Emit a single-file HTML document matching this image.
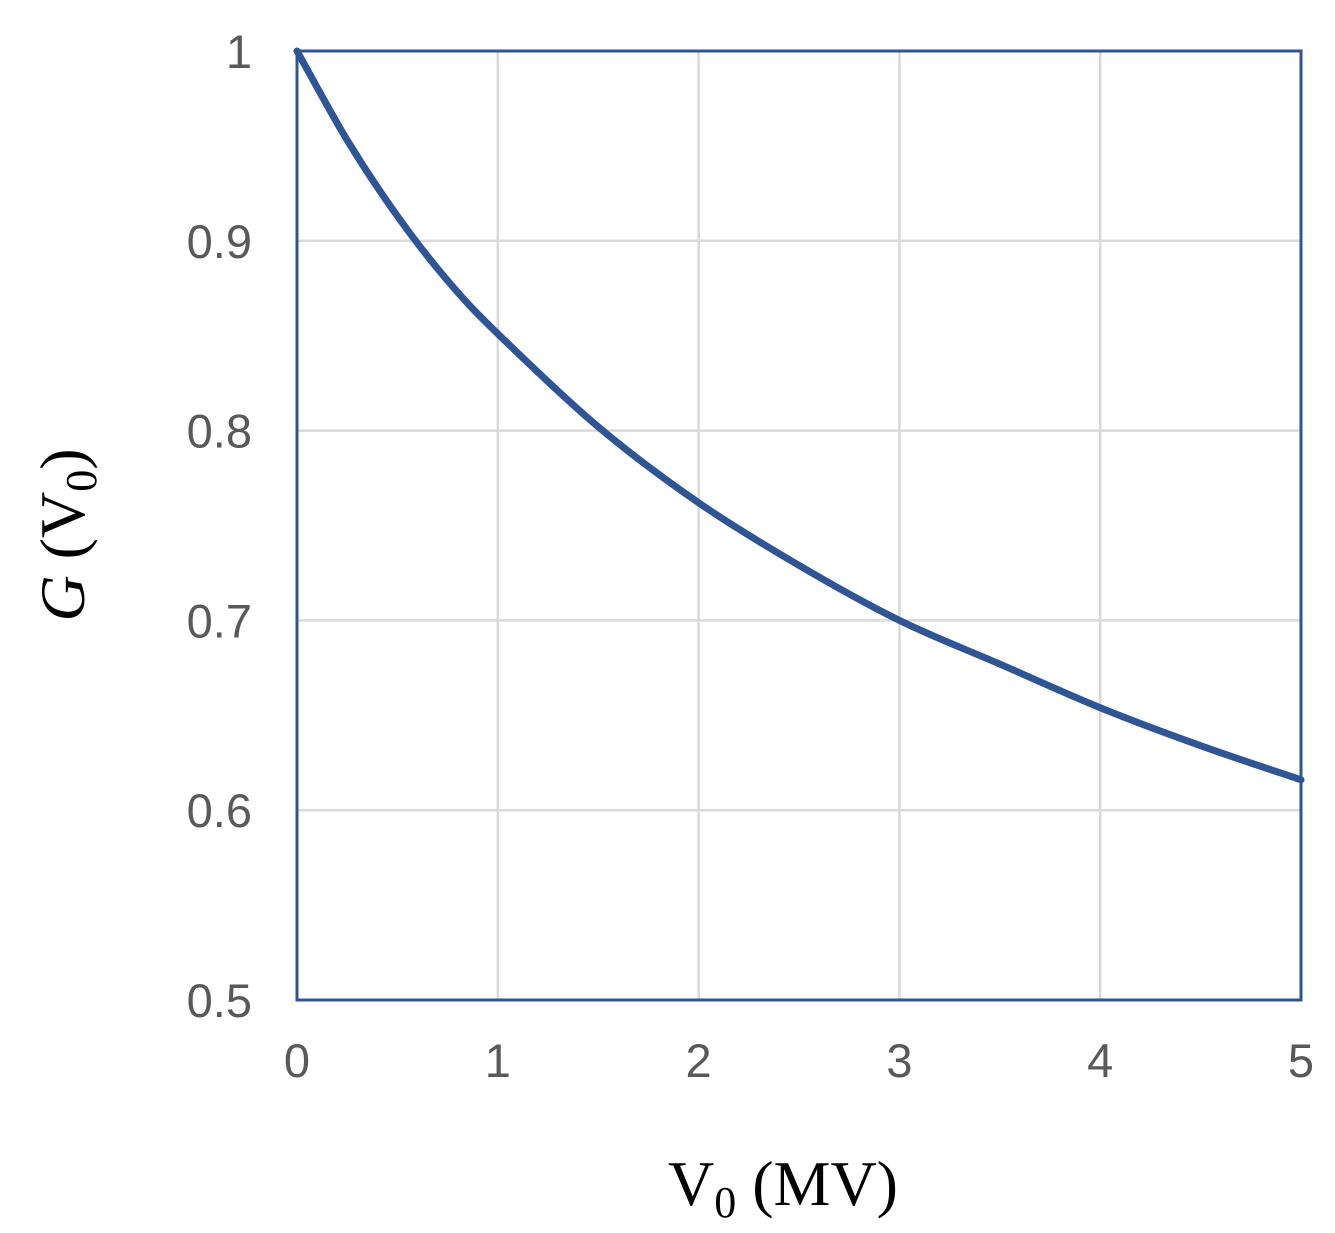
<!DOCTYPE html>
<html><head><meta charset="utf-8"><style>
html,body{margin:0;padding:0;background:#fff;}
svg{display:block;}
</style></head><body>
<svg width="1335" height="1233" viewBox="0 0 1335 1233">
<g id="grid"></g>
<g id="ticks"></g>
<path id="curve" fill="none" stroke="#2f5597" stroke-width="7" stroke-linecap="round" stroke-linejoin="round"/>
<rect x="297" y="51" width="1004" height="949" fill="none" stroke="#2f5597" stroke-width="3"/>
<text x="783" y="1205" text-anchor="middle" font-family="Liberation Serif, serif" font-size="64" fill="#000">V<tspan font-size="44" dy="12">0</tspan><tspan dy="-12"> (MV)</tspan></text>
<text transform="translate(84,535) rotate(-90)" text-anchor="middle" font-family="Liberation Serif, serif" font-size="64" fill="#000"><tspan font-style="italic">G</tspan> (V<tspan font-size="44" dy="12">0</tspan><tspan dy="-12">)</tspan></text>
</svg>
<script>
const xVals=[0,0.25,0.5,0.75,1,1.5,2,2.5,3,3.5,4,4.5,5];
const yVals=[1,0.953,0.913,0.879,0.851,0.802,0.762,0.729,0.700,0.677,0.654,0.634,0.616];
const xTicks=[0,1,2,3,4,5];
const yTicks=[0.5,0.6,0.7,0.8,0.9,1];
const yTickLabels=["0.5","0.6","0.7","0.8","0.9","1"];
const NS="http://www.w3.org/2000/svg";
function sx(v){return 297+v/5*1004;}
function sy(v){return 1000-(v-0.5)/0.5*949;}
const grid=document.getElementById('grid'),ticks=document.getElementById('ticks');
xTicks.forEach(t=>{
 const l=document.createElementNS(NS,'line');
 
 
 l.setAttribute('x1',sx(t));l.setAttribute('x2',sx(t));l.setAttribute('y1',sy(1));l.setAttribute('y2',sy(0.5));
 l.setAttribute('stroke','#d9d9d9');l.setAttribute('stroke-width','2.5');grid.appendChild(l);
 const tx=document.createElementNS(NS,'text');
 
 
 tx.setAttribute('x',sx(t));tx.setAttribute('y',1077);tx.setAttribute('text-anchor','middle');
 tx.setAttribute('font-family','Liberation Sans, sans-serif');tx.setAttribute('font-size','47');tx.setAttribute('fill','#595959');
 tx.textContent=t;ticks.appendChild(tx);
});
yTicks.forEach((t,i)=>{
 const l=document.createElementNS(NS,'line');
 
 
 l.setAttribute('x1',sx(0));l.setAttribute('x2',sx(5));l.setAttribute('y1',sy(t));l.setAttribute('y2',sy(t));
 l.setAttribute('stroke','#d9d9d9');l.setAttribute('stroke-width','2.5');grid.appendChild(l);
 const tx=document.createElementNS(NS,'text');
 
 
 tx.setAttribute('x',252);tx.setAttribute('y',sy(t)+17);tx.setAttribute('text-anchor','end');
 tx.setAttribute('font-family','Liberation Sans, sans-serif');tx.setAttribute('font-size','47');tx.setAttribute('fill','#595959');
 tx.textContent=yTickLabels[i];ticks.appendChild(tx);
});
const P=xVals.map((x,i)=>[sx(x),sy(yVals[i])]);
let d='M'+P[0][0]+','+P[0][1];
for(let i=0;i<P.length-1;i++){
 const p0=P[Math.max(0,i-1)],p1=P[i],p2=P[i+1],p3=P[Math.min(P.length-1,i+2)];
 const c1=[p1[0]+(p2[0]-p0[0])/6,p1[1]+(p2[1]-p0[1])/6];
 const c2=[p2[0]-(p3[0]-p1[0])/6,p2[1]-(p3[1]-p1[1])/6];
 d+=' C'+c1+' '+c2+' '+p2;
}
document.getElementById('curve').setAttribute('d',d);
</script>
</body></html>
